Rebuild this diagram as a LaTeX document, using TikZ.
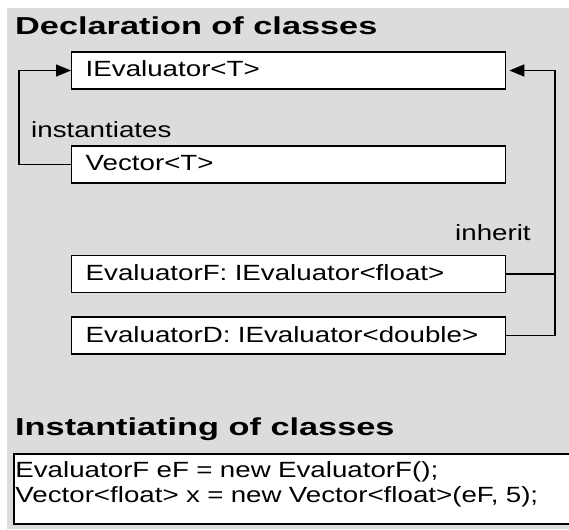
\documentclass[tikz,border=0pt]{standalone}
\usepackage{fontspec}
\setmainfont{Liberation Sans}[FakeStretch=1.26]
\newfontfamily\titlefont{Liberation Sans}[FakeStretch=1.40]
\usetikzlibrary{arrows.meta}
\definecolor{bg}{RGB}{220,220,220}
\begin{document}
\begin{tikzpicture}[x=1pt,y=-1pt,
  txt/.style={font=\fontsize{22}{25}\selectfont},
  classbox/.style={txt, draw, fill=white, line width=1.4pt, anchor=west,
    minimum height=37pt, text width=406pt, inner xsep=14pt, inner ysep=0pt,
    align=left, text height=17pt, text depth=4pt},
  title/.style={anchor=base west, inner sep=0pt, font=\titlefont\bfseries\fontsize{24.5}{28}\selectfont},
  lab/.style={txt, anchor=base west, inner sep=0pt},
  conn/.style={line width=1.4pt},
  tip/.style={-{Triangle[length=15pt,width=12pt]}}]
\useasboundingbox (0,0) rectangle (569,529);
\clip (0,0) rectangle (569,529);
\fill[white] (0,0) rectangle (569,529);
\fill[bg] (7,8) rectangle (569,529);

\node[title] (t1) at (15,35) {Declaration of classes};
\node[classbox] (iev) at (71,70.5) {IEvaluator<T>};
\node[classbox] (vec) at (71,164.5) {Vector<T>};
\node[classbox] (evf) at (71,274) {EvaluatorF: IEvaluator<float>};
\node[classbox] (evd) at (71,335.5) {EvaluatorD: IEvaluator<double>};
\node[lab] (l1) at (31,138) {instantiates};
\node[lab] (l2) at (455,240) {inherit};

\coordinate (lx) at (19,0);
\coordinate (rx) at (555,0);
\draw[conn,tip] (vec.west) -- (vec.west -| lx) |- (iev.west);
\draw[conn,tip] (evd.east) -- (evd.east -| rx) |- ([xshift=3pt]iev.east);
\draw[conn] (evf.east) -- (evf.east -| rx);

\node[title] (t2) at (15,435) {Instantiating of classes};
\node[txt, draw, fill=white, line width=1.8pt, anchor=north west, text width=600pt,
  inner xsep=1.5pt, inner ysep=0pt, align=left] (code) at (13,453)
  {\rule{0pt}{24pt}EvaluatorF eF = new EvaluatorF();\\
   Vector<float> x = new Vector<float>(eF, 5);\rule[-21pt]{0pt}{21pt}};
\end{tikzpicture}
\end{document}
